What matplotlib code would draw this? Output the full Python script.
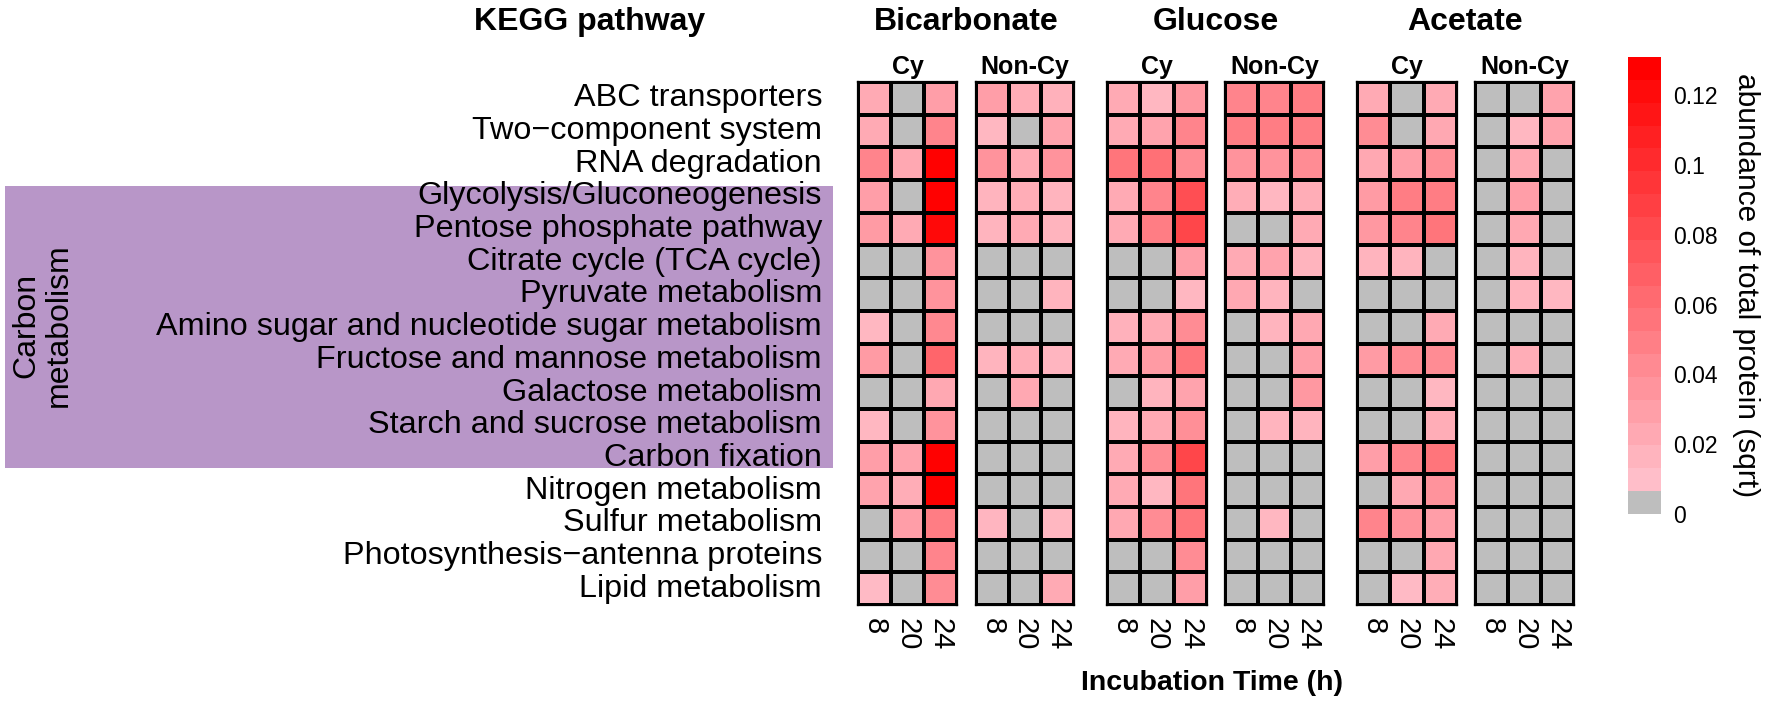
import numpy as np
import matplotlib
matplotlib.use('Agg')
import matplotlib.pyplot as plt
from matplotlib.colors import LinearSegmentedColormap, Normalize
from matplotlib.cm import ScalarMappable
from matplotlib.patches import Rectangle
import matplotlib.transforms as mtransforms

pathways = ['ABC transporters', 'Two\u2212component system', 'RNA degradation',
            'Glycolysis/Gluconeogenesis', 'Pentose phosphate pathway',
            'Citrate cycle (TCA cycle)', 'Pyruvate metabolism',
            'Amino sugar and nucleotide sugar metabolism',
            'Fructose and mannose metabolism', 'Galactose metabolism',
            'Starch and sucrose metabolism', 'Carbon fixation',
            'Nitrogen metabolism', 'Sulfur metabolism',
            'Photosynthesis\u2212antenna proteins', 'Lipid metabolism']
times = ['8', '20', '24']
substrates = ['Bicarbonate', 'Glucose', 'Acetate']
groups = ['Cy', 'Non-Cy']

# values per pathway row: (8 h, 20 h, 24 h)
bic_cy = [[0.020, 0, 0.028], [0.020, 0, 0.045], [0.045, 0.022, 0.130],
          [0.028, 0, 0.130], [0.030, 0.020, 0.125], [0, 0, 0.035],
          [0, 0, 0.035], [0.012, 0, 0.042], [0.030, 0, 0.065],
          [0, 0, 0.022], [0.012, 0, 0.035], [0.028, 0.025, 0.130],
          [0.025, 0.018, 0.130], [0, 0.028, 0.050], [0, 0, 0.045],
          [0.010, 0, 0.040]]
bic_noncy = [[0.028, 0.018, 0.016], [0.012, 0, 0.025], [0.035, 0.020, 0.035],
             [0.014, 0.018, 0.014], [0.014, 0.020, 0.014], [0, 0, 0],
             [0, 0, 0.014], [0, 0, 0], [0.014, 0.018, 0.013],
             [0, 0.022, 0], [0, 0, 0], [0, 0, 0],
             [0, 0, 0], [0.013, 0, 0.012], [0, 0, 0],
             [0, 0, 0.020]]
glu_cy = [[0.020, 0.012, 0.032], [0.020, 0.025, 0.045], [0.055, 0.058, 0.040],
          [0.020, 0.045, 0.080], [0.020, 0.050, 0.085], [0, 0, 0.028],
          [0, 0, 0.012], [0.016, 0.020, 0.040], [0.020, 0.030, 0.055],
          [0, 0.014, 0.025], [0.014, 0.020, 0.038], [0.020, 0.040, 0.085],
          [0.020, 0.012, 0.055], [0.022, 0.040, 0.055], [0, 0, 0.040],
          [0, 0, 0.028]]
glu_noncy = [[0.045, 0.045, 0.050], [0.050, 0.050, 0.050], [0.035, 0.035, 0.040],
             [0.018, 0.012, 0.018], [0, 0, 0.020], [0.020, 0.025, 0.014],
             [0.022, 0.014, 0], [0, 0.014, 0.022], [0, 0, 0.028],
             [0, 0, 0.032], [0, 0.014, 0.014], [0, 0, 0],
             [0, 0, 0], [0, 0.012, 0], [0, 0, 0],
             [0, 0, 0]]
ace_cy = [[0.020, 0, 0.020], [0.040, 0, 0.022], [0.022, 0.028, 0.038],
          [0.030, 0.050, 0.050], [0.032, 0.045, 0.055], [0.014, 0.014, 0],
          [0, 0, 0], [0, 0, 0.020], [0.030, 0.040, 0.040],
          [0, 0, 0.012], [0, 0, 0.018], [0.028, 0.045, 0.055],
          [0, 0.022, 0.035], [0.045, 0.035, 0.028], [0, 0, 0.022],
          [0, 0.010, 0.018]]
ace_noncy = [[0, 0, 0.025], [0, 0.012, 0.025], [0, 0.022, 0],
             [0, 0.028, 0], [0, 0.022, 0], [0, 0.014, 0],
             [0, 0.014, 0.012], [0, 0, 0], [0, 0.018, 0],
             [0, 0, 0], [0, 0, 0], [0, 0, 0],
             [0, 0, 0], [0, 0, 0], [0, 0, 0],
             [0, 0, 0]]

panels = [bic_cy, bic_noncy, glu_cy, glu_noncy, ace_cy, ace_noncy]

plt.rcParams['font.family'] = ['Liberation Sans', 'DejaVu Sans']

W, H = 1772, 706
vmax = 0.131
cmap = LinearSegmentedColormap.from_list(
    'abund', [(0, '#BEBEBE'), (0.05, '#BEBEBE'), (0.0501, '#FFBFCA'), (1, '#FF0000')])
norm = Normalize(0, vmax)

fig = plt.figure(figsize=(W / 100, H / 100), dpi=100)


def fbox(x0, y0, x1, y1):
    return [x0 / W, 1 - y1 / H, (x1 - x0) / W, (y1 - y0) / H]


xs = [(858, 957), (976, 1074), (1107, 1207), (1225, 1324), (1357, 1457), (1475, 1574)]
top, bottom = 82, 605
axes = []
for k, (x0, x1) in enumerate(xs):
    ax = fig.add_axes(fbox(x0, top, x1, bottom))
    data = np.array(panels[k])
    ax.pcolormesh(np.arange(4), np.arange(17), data, cmap=cmap, norm=norm,
                  edgecolors='black', linewidth=1.6)
    ax.set_xlim(0, 3)
    ax.set_ylim(16, 0)
    ax.set_yticks([])
    ax.set_xticks(np.arange(3) + 0.5)
    ax.set_xticklabels(times, rotation=-90, fontsize=21, va='top', ha='center')
    ax.tick_params(axis='x', length=0, pad=9)
    for s in ax.spines.values():
        s.set_linewidth(1.6)
    ax.set_title(groups[k % 2], fontsize=18, fontweight='bold', pad=6)
    axes.append(ax)

# row labels
trans = mtransforms.blended_transform_factory(fig.transFigure, axes[0].transData)
for i, name in enumerate(pathways):
    axes[0].text(822 / W, i + 0.5, name, transform=trans, ha='right', va='center',
                 fontsize=23.3)

# carbon metabolism band
fig.patches.append(Rectangle((5 / W, 1 - 468 / H), (833 - 5) / W, (468 - 186) / H,
                             transform=fig.transFigure, facecolor='#B896C8',
                             edgecolor='none', zorder=-1))
fig.text(43 / W, 1 - 325 / H, 'Carbon\nmetabolism', rotation=90, ha='center',
         va='center', fontsize=23, linespacing=1.1, multialignment='center')

fig.text(590 / W, 1 - 22 / H, 'KEGG pathway', ha='center', va='center',
         fontsize=23, fontweight='bold')

for j, sub in enumerate(substrates):
    cx = (xs[2 * j][0] + xs[2 * j + 1][1]) / 2
    fig.text(cx / W, 1 - 22 / H, sub, ha='center', va='center',
             fontsize=23, fontweight='bold')

fig.text(1212 / W, 1 - 683 / H, 'Incubation Time (h)', ha='center', va='center',
         fontsize=20.5, fontweight='bold')

# colour bar
cax = fig.add_axes(fbox(1628, 57, 1661, 514))
sm = ScalarMappable(norm=norm, cmap=cmap.resampled(20))
cb = fig.colorbar(sm, cax=cax)
cb.outline.set_visible(False)
cb.set_ticks([0, 0.02, 0.04, 0.06, 0.08, 0.1, 0.12])
cb.set_ticklabels(['0', '0.02', '0.04', '0.06', '0.08', '0.1', '0.12'])
cax.tick_params(length=0, pad=9, labelsize=16.5)
cb.set_label('abundance of total protein (sqrt)', rotation=270, fontsize=21.5,
             labelpad=30)

fig.savefig('out.png', dpi=100)
